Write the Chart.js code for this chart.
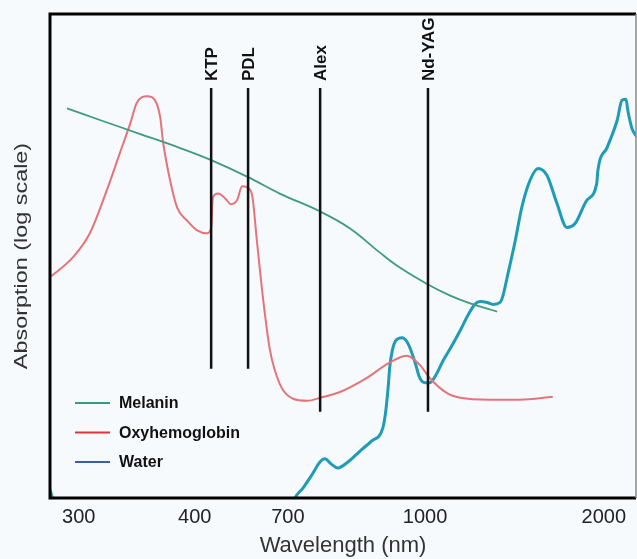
<!DOCTYPE html>
<html>
<head>
<meta charset="utf-8">
<title>Absorption spectra</title>
<script src="https://cdn.jsdelivr.net/npm/chart.js@4"></script>
<style>
  html, body { margin: 0; padding: 0; background: #f6fafc; }
  canvas { display: block; }
</style>
</head>
<body>
<canvas id="chart" width="637" height="559"></canvas>
<script>
// ---------------------------------------------------------------------------
// Data. The x axis is not a true wavelength scale, so
// x is a 0..100 position along the axis and the tick labels name the points.
// y is relative absorption (log scale, no ticks shown), 0..100.
// ---------------------------------------------------------------------------
const tickPos = [4.9, 24.7, 40.6, 64.0, 94.5];
const tickLabels = ["300", "400", "700", "1000", "2000"];

const melaninX = [2.9, 8.5, 15.4, 22.2, 27.5, 33.8, 39.2, 46.1, 51.2, 56.3, 59.7, 64.5, 68.3, 71.7, 76.3];
const melaninY = [80.5, 78.1, 75.2, 72.3, 69.8, 66.3, 62.9, 59.2, 55.7, 50.7, 47.6, 44.1, 41.8, 40.2, 38.5];

const oxyX = [0.2, 3.9, 6.8, 9.7, 11.9, 13.7, 14.8, 16.6, 17.9, 18.8, 19.3, 20.5, 21.7, 23.4, 25.1,
  26.8, 27.5, 27.8, 28.7, 29.9, 30.9, 31.9, 32.8, 33.6, 34.5, 35.3, 36.3, 37.5, 39.2, 41.5,
  43.9, 46.1, 49.5, 53.8, 58.0, 60.9, 63.1, 64.8, 67.7, 70.0, 75.1, 80.2, 85.8];
const oxyY = [45.8, 49.7, 54.7, 63.6, 71.2, 77.4, 81.6, 83.0, 82.2, 78.7, 73.5, 65.6, 60.0, 57.3, 55.3,
  54.7, 55.9, 62.1, 62.9, 61.9, 60.7, 61.5, 64.4, 64.2, 62.5, 53.2, 41.8, 30.8, 23.6, 20.5,
  20.1, 20.7, 21.9, 24.6, 28.0, 29.4, 27.5, 24.8, 21.7, 20.7, 20.3, 20.3, 20.9];

const waterX = [0, 1.0, 41.0, 41.8, 43.2, 44.7, 46.1, 46.9, 48.0, 49.1, 50.9, 52.9, 54.9, 56.8, 57.3,
  57.7, 58.0, 58.4, 59.0, 60.1, 60.9, 61.4, 62.3, 63.1, 64.0, 64.8, 65.9, 67.1, 68.6, 70.0,
  71.3, 72.5, 73.4, 74.6, 75.6, 76.8, 77.3, 78.0, 79.4, 80.5, 81.9, 83.3, 84.8, 86.5, 88.2,
  89.6, 91.6, 93.3, 93.5, 95.1, 96.8, 97.6, 98.3, 98.6, 99.3, 100.2];
const waterY = [1.7, -1.7, -2.7, 0, 2.1, 4.8, 7.5, 8.1, 7.0, 6.2, 7.5, 9.7, 11.8, 14.5, 18.0,
  22.8, 27.3, 30.4, 32.5, 33.1, 32.3, 31.1, 28.0, 24.8, 23.8, 23.8, 25.5, 28.4, 31.5, 34.6,
  37.7, 40.0, 40.6, 40.4, 40.0, 40.4, 41.8, 45.5, 53.2, 60.0, 65.6, 68.1, 66.7, 60.9, 55.9,
  56.7, 61.5, 65.0, 67.7, 72.5, 78.1, 82.2, 82.4, 80.1, 76.4, 74.5];

// Laser wavelengths drawn as vertical markers
const laserNames = ["KTP", "PDL", "Alex", "Nd-YAG"];
const laserPos = [27.5, 33.8, 46.1, 64.5];
const laserTop = [84.7, 84.7, 84.7, 84.7];
const laserBottom = [26.7, 26.7, 17.8, 17.8];

const seriesNames = ["Melanin", "Oxyhemoglobin", "Water"];

// ---------------------------------------------------------------------------
// Colours / fonts
// ---------------------------------------------------------------------------
const curveColors = ["#3f9b80", "#e6737a", "#1f9bb6"];
const legendColors = ["#3a9a7e", "#e0343c", "#3b5fa6"];
const FONT = "'Liberation Sans', Arial, sans-serif";

function toPoints(xs, ys) {
  return xs.map((x, i) => ({ x: x, y: ys[i] }));
}

// Vertical laser lines go first so they are painted on top of the curves.
const laserDatasets = laserPos.map((x, i) => ({
  label: laserNames[i],
  data: [{ x: x, y: laserTop[i] }, { x: x, y: laserBottom[i] }],
  borderColor: "#111111",
  borderWidth: 2.5,
  pointRadius: 0,
  tension: 0,
}));

const curveDatasets = [
  { label: seriesNames[0], data: toPoints(melaninX, melaninY), borderColor: curveColors[0], borderWidth: 1.8, tension: 0.4 },
  { label: seriesNames[1], data: toPoints(oxyX, oxyY), borderColor: curveColors[1], borderWidth: 2, cubicInterpolationMode: "monotone" },
  { label: seriesNames[2], data: toPoints(waterX, waterY), borderColor: curveColors[2], borderWidth: 3, cubicInterpolationMode: "monotone" },
].map((d) => Object.assign({ pointRadius: 0, clip: 0 }, d));

// ---------------------------------------------------------------------------
// Plugin: frame, laser labels, y title and the legend inside the plot
// ---------------------------------------------------------------------------
const decorations = {
  id: "decorations",
  afterDatasetsDraw(chart) {
    const { ctx, chartArea: a, scales } = chart;
    ctx.save();

    // frame: heavy black on left/top/bottom, thin grey on the right
    ctx.strokeStyle = "#000";
    ctx.lineWidth = 3;
    ctx.beginPath();
    ctx.moveTo(a.right, a.top);
    ctx.lineTo(a.left, a.top);
    ctx.lineTo(a.left, a.bottom);
    ctx.lineTo(a.right, a.bottom);
    ctx.stroke();
    ctx.strokeStyle = "#8a8a8a";
    ctx.lineWidth = 1.5;
    ctx.beginPath();
    ctx.moveTo(a.right, a.top);
    ctx.lineTo(a.right, a.bottom);
    ctx.stroke();

    // laser names, rotated, just above each line
    ctx.fillStyle = "#111";
    ctx.font = "bold 17px " + FONT;
    ctx.textAlign = "left";
    ctx.textBaseline = "middle";
    laserNames.forEach((name, i) => {
      const x = scales.x.getPixelForValue(laserPos[i]);
      const y = scales.y.getPixelForValue(laserTop[i]) - 7;
      ctx.save();
      ctx.translate(x, y);
      ctx.rotate(-Math.PI / 2);
      ctx.fillText(name, 0, 1);
      ctx.restore();
    });

    // y axis title (the source has it stretched along its length)
    ctx.save();
    ctx.fillStyle = "#333";
    ctx.font = "18px " + FONT;
    ctx.textAlign = "center";
    ctx.translate(22, (a.top + a.bottom) / 2);
    ctx.rotate(-Math.PI / 2);
    ctx.scale(1.3, 1);
    ctx.fillText("Absorption (log scale)", 0, 0);
    ctx.restore();

    // legend
    ctx.font = "bold 16px " + FONT;
    seriesNames.forEach((name, i) => {
      const y = 403 + i * 29.5;
      ctx.strokeStyle = legendColors[i];
      ctx.lineWidth = 2;
      ctx.beginPath();
      ctx.moveTo(75, y);
      ctx.lineTo(110, y);
      ctx.stroke();
      ctx.fillStyle = "#111";
      ctx.fillText(name, 119, y + 1);
    });

    ctx.restore();
  },
};

new Chart(document.getElementById("chart"), {
  type: "line",
  data: { datasets: laserDatasets.concat(curveDatasets) },
  options: {
    responsive: false,
    animation: false,
    layout: { padding: { top: 14, right: 1, left: 0, bottom: 0 } },
    plugins: { legend: { display: false }, tooltip: { enabled: false } },
    scales: {
      x: {
        type: "linear",
        min: 0,
        max: 100,
        grid: { display: false, drawTicks: false },
        border: { display: false },
        afterBuildTicks: (scale) => {
          scale.ticks = tickPos.map((v) => ({ value: v }));
        },
        afterFit: (scale) => { scale.height = 61; },
        ticks: {
          autoSkip: false,
          maxRotation: 0,
          padding: 7,
          color: "#222",
          font: { family: FONT, size: 20 },
          callback: (value, index) => tickLabels[index],
        },
        title: {
          display: true,
          text: "Wavelength (nm)",
          color: "#333",
          padding: { top: 0, bottom: 0 },
          font: { family: FONT, size: 22 },
        },
      },
      y: {
        type: "linear",
        min: 0,
        max: 100,
        grid: { display: false, drawTicks: false },
        border: { display: false },
        ticks: { display: false },
        afterFit: (scale) => { scale.width = 50; },
        title: { display: false },
      },
    },
  },
  plugins: [decorations],
});
</script>
</body>
</html>
